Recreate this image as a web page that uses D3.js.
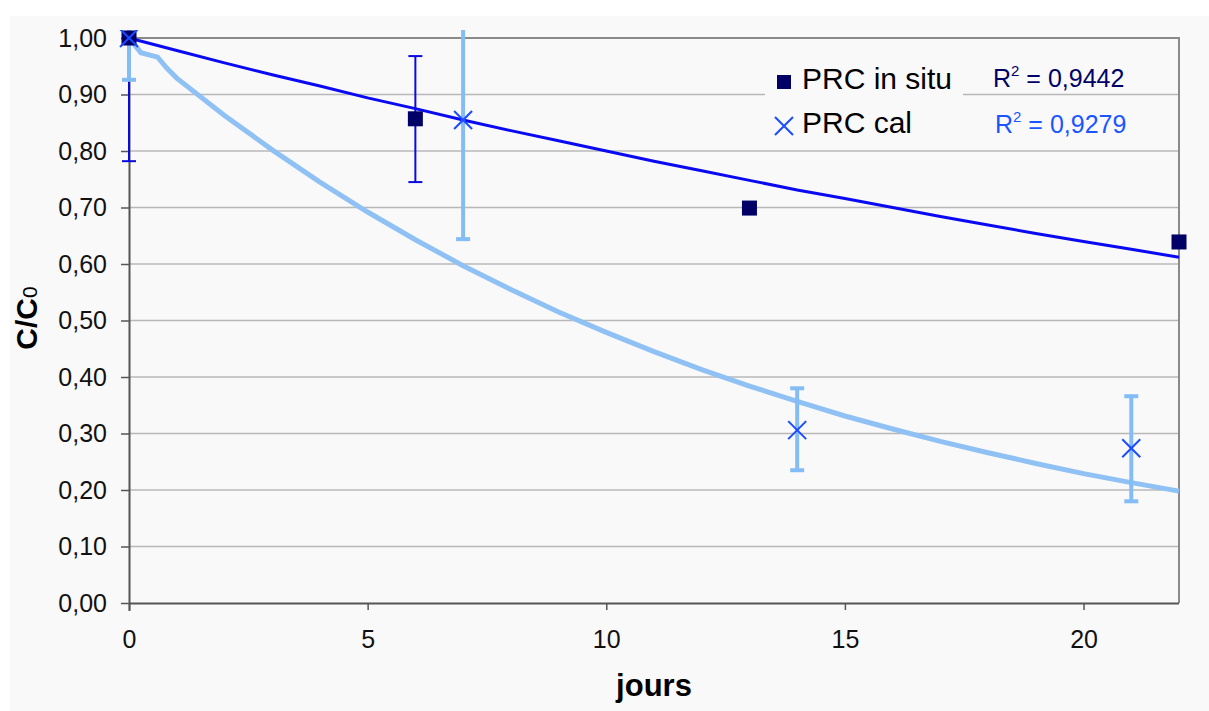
<!DOCTYPE html>
<html>
<head>
<meta charset="utf-8">
<script src="https://cdn.jsdelivr.net/npm/d3@7"></script>
<style>
  body { margin: 0; background: #fff; }
  text { font-family: Arial, "Liberation Sans", sans-serif; }
</style>
</head>
<body>
<div id="chart"></div>
<script>
// measured points (jours, C/C0) and error bars
const inSituDays = [0, 6, 13, 22]
const inSituVals = [1.00, 0.857, 0.699, 0.639]
const inSituLow = [0.782, 0.745, null, null]
const inSituHigh = [1.22, 0.968, null, null]

const calDays = [0, 7, 14, 21]
const calVals = [1.00, 0.855, 0.306, 0.274]
const calLow = [0.926, 0.644, 0.235, 0.180]
const calHigh = [1.074, 1.066, 0.380, 0.366]

// trend lines
const fitInSituDays = [0, 1, 2, 3, 4, 5, 6, 7, 8, 9, 10, 11, 12, 13, 14, 15, 16, 17, 18, 19, 20, 21, 22]
const fitInSituVals = [1.000, 0.978, 0.956, 0.935, 0.915, 0.894, 0.875, 0.855, 0.836, 0.818, 0.800, 0.782,
    0.765, 0.748, 0.731, 0.716, 0.700, 0.684, 0.669, 0.654, 0.640, 0.626, 0.612]
const fitCalDays = [0, 0.25, 0.6, 0.8, 1, 2, 3, 4, 5, 6, 7, 8, 9, 10, 11, 12, 13, 14, 15, 16, 17, 18, 19, 20, 21, 22]
const fitCalVals = [1.000, 0.974, 0.966, 0.946, 0.929, 0.863, 0.802, 0.745, 0.692, 0.643, 0.597, 0.555, 0.515,
    0.479, 0.445, 0.413, 0.384, 0.357, 0.331, 0.308, 0.286, 0.266, 0.247, 0.229, 0.213, 0.198]

const xTicks = [0, 5, 10, 15, 20]
const yTicks = [0, 0.1, 0.2, 0.3, 0.4, 0.5, 0.6, 0.7, 0.8, 0.9, 1.0]
const seriesNames = ["PRC in situ", "PRC cal"]
const r2Labels = ["0,9442", "0,9279"]

const W = 1209, H = 711
const mLeft = 129, mRight = 1179, mTop = 38, mBottom = 603
const fr = d3.formatLocale({ decimal: ",", thousands: " ", grouping: [3], currency: ["", "€"] })
const fmtY = fr.format(".2f")

const x = d3.scaleLinear([0, 22], [mLeft, mRight])
const y = d3.scaleLinear([0, 1], [mBottom, mTop])

const svg = d3.select('#chart')
    .append('svg')
    .attr('width', W)
    .attr('height', H)

svg.append("rect")
    .attr("x", 10).attr("y", 16)
    .attr("width", W - 10).attr("height", H - 16)
    .attr("fill", "#f9f9f9")

// grid
svg.append("g")
    .selectAll("line")
    .data(yTicks.slice(1, -1))
    .join("line")
    .attr("x1", mLeft).attr("x2", mRight)
    .attr("y1", d => y(d)).attr("y2", d => y(d))
    .attr("stroke", "#b8b8b8")
    .attr("stroke-width", 1.5)

// plot border top + right
svg.append("path")
    .attr("d", `M${mLeft},${mTop}H${mRight}V${mBottom}`)
    .attr("fill", "none")
    .attr("stroke", "#8a8a8a")
    .attr("stroke-width", 2)

// axes
const yAxis = svg.append("g")
    .attr("transform", `translate(${mLeft},0)`)
    .call(d3.axisLeft(y).tickValues(yTicks).tickFormat(fmtY).tickSize(8).tickPadding(14))
const xAxis = svg.append("g")
    .attr("transform", `translate(0,${mBottom})`)
    .call(d3.axisBottom(x).tickValues(xTicks).tickSize(7).tickPadding(20))

for (const a of [xAxis, yAxis]) {
    a.select(".domain").attr("stroke", "#555").attr("stroke-width", 2)
    a.selectAll(".tick line").attr("stroke", "#555").attr("stroke-width", 1.5)
    a.selectAll(".tick text").attr("font-size", 25).attr("fill", "#111")
        .attr("font-family", "Arial, 'Liberation Sans', sans-serif")
}
xAxis.select(".domain").attr("d", `M${mLeft},0.5H${mRight}`)
yAxis.select(".domain").attr("d", `M0.5,${mTop}V${mBottom + 8}`)

// axis titles
svg.append("text")
    .attr("x", 654).attr("y", 696)
    .attr("text-anchor", "middle")
    .attr("font-size", 31).attr("font-weight", "bold")
    .text("jours")

const yTitle = svg.append("text")
    .attr("transform", `translate(37,318) rotate(-90)`)
    .attr("text-anchor", "middle")
    .attr("font-size", 30).attr("font-weight", "bold")
yTitle.append("tspan").text("C/C")
yTitle.append("tspan").attr("font-weight", "normal").attr("font-size", 21).text("0")

const plot = svg.append("g")
svg.append("clipPath").attr("id", "clip")
    .append("rect").attr("x", 0).attr("y", 30).attr("width", W).attr("height", H)
plot.attr("clip-path", "url(#clip)")

const line = d3.line().x(d => x(d[0])).y(d => y(d[1]))

plot.append("path")
    .datum(d3.zip(fitCalDays, fitCalVals))
    .attr("fill", "none")
    .attr("stroke", "#8fc1f4")
    .attr("stroke-width", 5)
    .attr("d", line)

plot.append("path")
    .datum(d3.zip(fitInSituDays, fitInSituVals))
    .attr("fill", "none")
    .attr("stroke", "#0a0af2")
    .attr("stroke-width", 3)
    .attr("d", line)

// error bars
const errBars = (days, low, high, color, width, cap) => {
    const data = days.map((d, i) => ({ d, lo: low[i], hi: high[i] })).filter(e => e.lo != null)
    const g = plot.append("g").attr("stroke", color).attr("stroke-width", width)
    g.selectAll(".v").data(data).join("line")
        .attr("x1", e => x(e.d)).attr("x2", e => x(e.d))
        .attr("y1", e => y(e.lo)).attr("y2", e => y(e.hi))
    g.selectAll(".lo").data(data).join("line")
        .attr("x1", e => x(e.d) - cap).attr("x2", e => x(e.d) + cap)
        .attr("y1", e => y(e.lo)).attr("y2", e => y(e.lo))
    g.selectAll(".hi").data(data).join("line")
        .attr("x1", e => x(e.d) - cap).attr("x2", e => x(e.d) + cap)
        .attr("y1", e => y(e.hi)).attr("y2", e => y(e.hi))
}
errBars(inSituDays, inSituLow, inSituHigh, "#0a0ae0", 2, 7)
errBars(calDays, calLow, calHigh, "#84bcf6", 4, 7)

// markers
plot.append("g")
    .selectAll("rect")
    .data(d3.zip(inSituDays, inSituVals))
    .join("rect")
    .attr("x", d => x(d[0]) - 7.5).attr("y", d => y(d[1]) - 7.5)
    .attr("width", 15).attr("height", 15)
    .attr("fill", "#000066")

const cross = s => `M${-s},${-s}L${s},${s}M${-s},${s}L${s},${-s}`
plot.append("g")
    .attr("stroke", "#1a4cff").attr("stroke-width", 2).attr("fill", "none")
    .selectAll("path")
    .data(d3.zip(calDays, calVals))
    .join("path")
    .attr("transform", d => `translate(${x(d[0])},${y(d[1])})`)
    .attr("d", cross(9))

// legend
svg.append("rect")
    .attr("x", 765).attr("y", 62).attr("width", 198).attr("height", 82)
    .attr("fill", "#f9f9f9")
const leg = svg.append("g").attr("font-size", 30).attr("fill", "#000")
leg.append("rect").attr("x", 777).attr("y", 75).attr("width", 14).attr("height", 14).attr("fill", "#000066")
leg.append("path").attr("transform", "translate(784,126)").attr("d", cross(9))
    .attr("stroke", "#1a4cff").attr("stroke-width", 2)
leg.selectAll("text").data(seriesNames).join("text")
    .attr("x", 802).attr("y", (d, i) => 89 + i * 44)
    .text(d => d)

// R² labels
const r2Colors = ["#000066", "#1a55ff"]
const r2 = svg.append("g").selectAll("text").data(r2Labels).join("text")
    .attr("x", (d, i) => 993 + i * 2).attr("y", (d, i) => 87 + i * 46)
    .attr("font-size", 25)
    .attr("fill", (d, i) => r2Colors[i])
r2.append("tspan").text("R")
r2.append("tspan").attr("font-size", 15).attr("dy", -11).text("2")
r2.append("tspan").attr("dy", 11).text(d => ` = ${d}`)
</script>
</body>
</html>
